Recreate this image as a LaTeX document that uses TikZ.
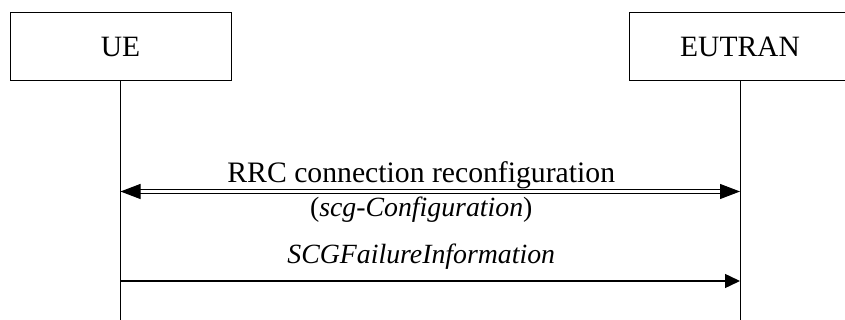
\documentclass[tikz,border=0pt]{standalone}
\usepackage{fontspec}
\setmainfont{Liberation Serif}
\usetikzlibrary{arrows.meta, positioning}

\begin{document}
\begin{tikzpicture}[
  x=1pt, y=-1pt,
  entity/.style={rectangle, draw, line width=1pt, minimum width=221pt, minimum height=68pt, font=\fontsize{29.5}{34}\selectfont},
  lifeline/.style={line width=1pt},
  msg/.style={-{Triangle[length=15pt,width=14pt]}, line width=1.4pt},
  dmsg/.style={{Triangle[length=20pt,width=15pt]}-{Triangle[length=20pt,width=15pt]}, double, double distance=2.4pt, line width=1pt},
  msgtext/.style={font=\fontsize{29.7}{34}\selectfont, inner sep=0pt, xshift=-9pt},
  msgital/.style={font=\fontsize{27.8}{32}\selectfont\itshape, inner sep=0pt, xshift=-9pt}
]
\useasboundingbox (0,0) rectangle (845,320);

\node[entity] (ue) at (120.5,47) {UE};
\node[entity] (eutran) at (740,47) {EUTRAN};

% lifelines
\coordinate (bot) at (0,320);
\draw[lifeline] (ue.south) -- (ue.south |- bot);
\draw[lifeline] (eutran.south) -- (eutran.south |- bot);

% messages
\coordinate (m1) at (0,191.5);
\coordinate (m2) at (0,281);
\draw[dmsg] (ue |- m1) -- (eutran |- m1)
  node[midway, above=2pt, msgtext] (rrc) {RRC connection reconfiguration}
  node[midway, below=4.5pt, msgital] (scgcfg) {\upshape(\itshape scg-Configuration\/\upshape)};
\draw[msg] (ue |- m2) -- (eutran |- m2)
  node[midway, above=18pt, anchor=base, msgital] (scgfail) {SCGFailureInformation};

\end{tikzpicture}
\end{document}
